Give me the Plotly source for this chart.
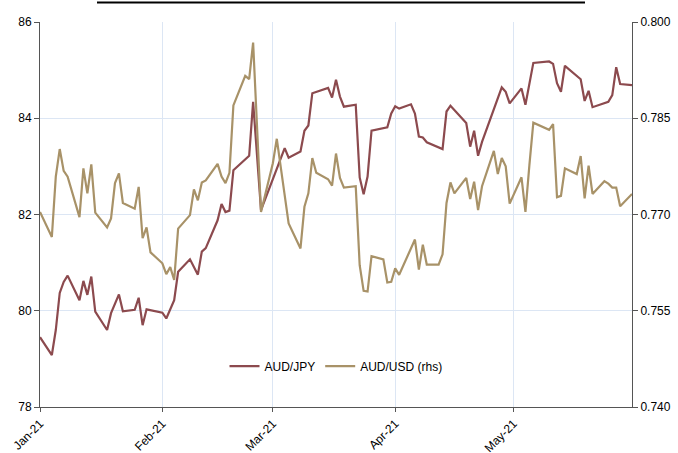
import plotly.graph_objects as go

# AUD/JPY (left axis)
jpy_dates = ["2021-01-01","2021-01-04","2021-01-05","2021-01-06","2021-01-07","2021-01-08",
             "2021-01-11","2021-01-12","2021-01-13","2021-01-14","2021-01-15","2021-01-18",
             "2021-01-19","2021-01-21","2021-01-22","2021-01-25","2021-01-26","2021-01-27",
             "2021-01-28","2021-02-01","2021-02-02","2021-02-04","2021-02-05","2021-02-08",
             "2021-02-10","2021-02-11","2021-02-12","2021-02-15","2021-02-16","2021-02-17",
             "2021-02-18","2021-02-19","2021-02-23","2021-02-24","2021-02-26","2021-03-03",
             "2021-03-04","2021-03-05","2021-03-08","2021-03-09","2021-03-10","2021-03-11",
             "2021-03-15","2021-03-16","2021-03-17","2021-03-18","2021-03-19","2021-03-22",
             "2021-03-23","2021-03-24","2021-03-25","2021-03-26","2021-03-30","2021-03-31",
             "2021-04-01","2021-04-02","2021-04-05","2021-04-06","2021-04-07","2021-04-08",
             "2021-04-09","2021-04-13","2021-04-14","2021-04-15","2021-04-19","2021-04-20",
             "2021-04-21","2021-04-22","2021-04-23","2021-04-28","2021-04-29","2021-04-30",
             "2021-05-03","2021-05-04","2021-05-06","2021-05-10","2021-05-11","2021-05-12",
             "2021-05-13","2021-05-14","2021-05-18","2021-05-19","2021-05-20","2021-05-21",
             "2021-05-25","2021-05-26","2021-05-27","2021-05-28","2021-05-31"]
jpy_values = [79.45,79.08,79.60,80.37,80.60,80.73,
              80.22,80.62,80.33,80.71,79.98,79.60,
              79.95,80.34,79.99,80.02,80.27,79.70,
              80.03,79.96,79.84,80.22,80.81,81.07,
              80.75,81.23,81.30,81.88,82.22,82.05,
              82.08,82.92,83.22,84.34,82.09,83.20,
              83.38,83.18,83.31,83.74,83.85,84.52,
              84.63,84.43,84.80,84.45,84.24,84.28,
              82.77,82.42,82.79,83.74,83.81,84.10,
              84.25,84.20,84.29,84.10,83.62,83.60,
              83.50,83.36,84.14,84.26,83.90,83.41,
              83.74,83.22,83.51,84.64,84.55,84.31,
              84.62,84.28,85.15,85.18,85.13,84.73,
              84.55,85.09,84.81,84.36,84.57,84.23,
              84.34,84.48,85.06,84.71,84.69]

# AUD/USD (right axis)
usd_dates = ["2021-01-01","2021-01-04","2021-01-05","2021-01-06","2021-01-07","2021-01-08",
             "2021-01-11","2021-01-12","2021-01-13","2021-01-14","2021-01-15","2021-01-18",
             "2021-01-19","2021-01-20","2021-01-21","2021-01-22","2021-01-25","2021-01-26",
             "2021-01-27","2021-01-28","2021-01-29","2021-02-01","2021-02-02","2021-02-03",
             "2021-02-04","2021-02-05","2021-02-08","2021-02-09","2021-02-10","2021-02-11",
             "2021-02-12","2021-02-15","2021-02-16","2021-02-17","2021-02-18","2021-02-19",
             "2021-02-22","2021-02-23","2021-02-24","2021-02-26","2021-03-01","2021-03-02",
             "2021-03-05","2021-03-08","2021-03-09","2021-03-10","2021-03-11","2021-03-12",
             "2021-03-15","2021-03-16","2021-03-17","2021-03-18","2021-03-19","2021-03-22",
             "2021-03-23","2021-03-24","2021-03-25","2021-03-26","2021-03-29","2021-03-30",
             "2021-03-31","2021-04-01","2021-04-02","2021-04-06","2021-04-07","2021-04-08",
             "2021-04-09","2021-04-12","2021-04-13","2021-04-14","2021-04-15","2021-04-16",
             "2021-04-19","2021-04-20","2021-04-21","2021-04-22","2021-04-23","2021-04-26",
             "2021-04-27","2021-04-28","2021-04-29","2021-04-30","2021-05-03","2021-05-04",
             "2021-05-05","2021-05-06","2021-05-10","2021-05-11","2021-05-12","2021-05-13",
             "2021-05-14","2021-05-17","2021-05-18","2021-05-19","2021-05-20","2021-05-21",
             "2021-05-24","2021-05-25","2021-05-26","2021-05-27","2021-05-28","2021-05-31"]
usd_values = [0.7704,0.7665,0.7759,0.7802,0.7768,0.7759,
              0.7696,0.7772,0.7733,0.7778,0.7703,0.7680,
              0.7694,0.7749,0.7764,0.7718,0.7709,0.7743,
              0.7663,0.7680,0.7641,0.7624,0.7607,0.7618,
              0.7598,0.7678,0.7699,0.7739,0.7722,0.7750,
              0.7753,0.7779,0.7759,0.7749,0.7765,0.7870,
              0.7916,0.7911,0.7968,0.7704,0.7780,0.7818,
              0.7686,0.7647,0.7712,0.7733,0.7788,0.7765,
              0.7755,0.7745,0.7795,0.7757,0.7742,0.7744,
              0.7621,0.7581,0.7580,0.7635,0.7630,0.7594,
              0.7595,0.7616,0.7606,0.7661,0.7614,0.7653,
              0.7622,0.7622,0.7638,0.7718,0.7750,0.7733,
              0.7757,0.7724,0.7751,0.7707,0.7744,0.7799,
              0.7763,0.7788,0.7775,0.7717,0.7758,0.7704,
              0.7777,0.7843,0.7832,0.7841,0.7727,0.7729,
              0.7772,0.7763,0.7791,0.7725,0.7776,0.7732,
              0.7752,0.7748,0.7742,0.7742,0.7713,0.7732]

left_ticks = [78, 80, 82, 84, 86]
right_ticks = [0.740, 0.755, 0.770, 0.785, 0.800]
month_ticks = ["2021-01-01", "2021-02-01", "2021-03-01", "2021-04-01", "2021-05-01"]
month_labels = ["Jan-21", "Feb-21", "Mar-21", "Apr-21", "May-21"]

JPY_COLOR = "#8C4A4E"
USD_COLOR = "#A89268"
GRID = "#DCE6F4"
AXIS = "#555555"
FONT = "Liberation Sans, Arial, sans-serif"

fig = go.Figure()
fig.add_trace(go.Scatter(x=jpy_dates, y=jpy_values, name="AUD/JPY", mode="lines",
                         line=dict(color=JPY_COLOR, width=2.2), yaxis="y"))
fig.add_trace(go.Scatter(x=usd_dates, y=usd_values, name="AUD/USD (rhs)", mode="lines",
                         line=dict(color=USD_COLOR, width=2.2), yaxis="y2"))

fig.update_layout(
    width=678, height=453,
    margin=dict(l=40, r=46, t=22, b=46, autoexpand=False),
    paper_bgcolor="white", plot_bgcolor="white",
    font=dict(family=FONT, size=12, color="#000000"),
    showlegend=True,
    legend=dict(orientation="h", x=0.50, y=0.106, xanchor="center", yanchor="middle",
                bgcolor="rgba(0,0,0,0)", font=dict(size=12, family=FONT),
                itemwidth=30, tracegroupgap=0),
    xaxis=dict(type="date", range=["2021-01-01", "2021-05-31"],
               tickvals=month_ticks, ticktext=month_labels, tickangle=-45,
               showgrid=True, gridcolor=GRID, gridwidth=1,
               showline=True, linecolor=AXIS, linewidth=1,
               ticks="outside", ticklen=4, tickcolor=AXIS, zeroline=False,
               automargin=False, tickfont=dict(size=12)),
    yaxis=dict(range=[78, 86], tickvals=left_ticks, showgrid=True, gridcolor=GRID,
               gridwidth=1, showline=True, linecolor=AXIS, linewidth=1,
               ticks="outside", ticklen=5, tickcolor=AXIS, zeroline=False,
               automargin=False, tickfont=dict(size=12)),
    yaxis2=dict(range=[0.740, 0.800], tickvals=right_ticks, tickformat=".3f",
                overlaying="y", side="right", showgrid=False,
                showline=True, linecolor=AXIS, linewidth=1,
                ticks="outside", ticklen=5, tickcolor=AXIS, zeroline=False,
                automargin=False, tickfont=dict(size=12)),
    shapes=[dict(type="line", xref="paper", yref="paper",
                 x0=0.0963, x1=0.9206, y0=1.0506, y1=1.0506,
                 line=dict(color="black", width=2))],
)

fig.write_html("out.html", config={"displayModeBar": False},
               post_script="document.body.style.margin='0';document.body.style.overflow='hidden';")
